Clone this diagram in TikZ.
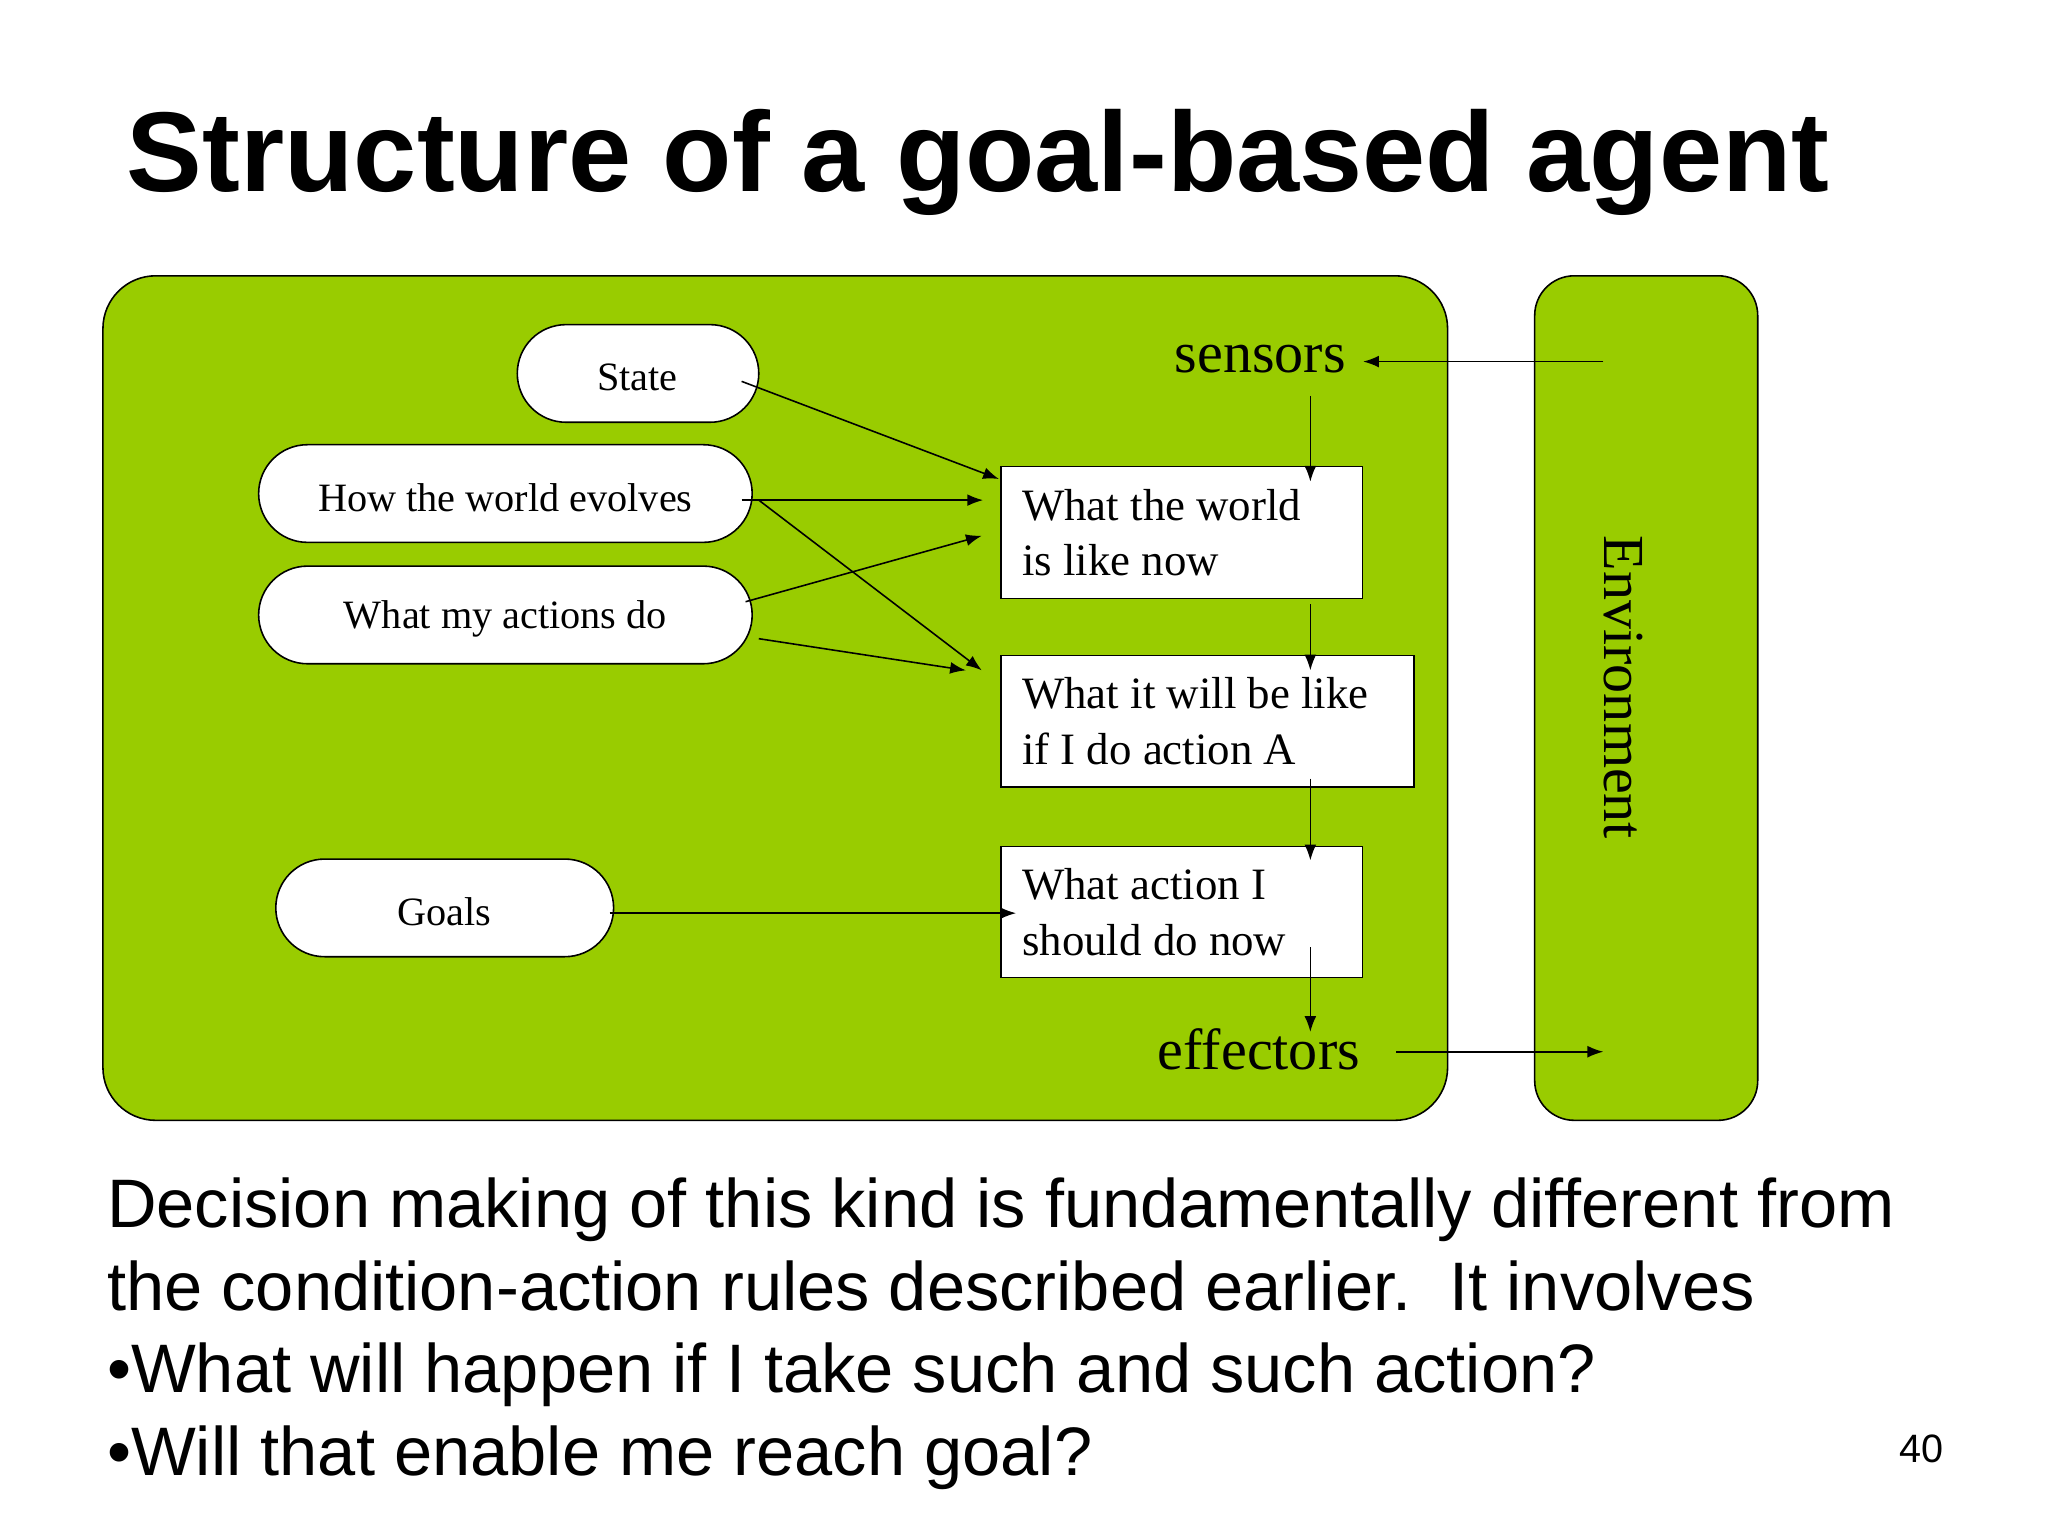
\documentclass[tikz,border=0pt]{standalone}
\usepackage{fontspec}
\setmainfont{Liberation Serif}
\newfontfamily\sans{Liberation Sans}
\usetikzlibrary{arrows.meta}
\definecolor{agreen}{HTML}{99CC00}
\begin{document}
\begin{tikzpicture}[x=1pt,y=-1pt,
  pill/.style={draw,fill=white,rounded corners=37pt,line width=1.2pt},
  pilltext/.style={font=\fontsize{30.5}{32}\selectfont},
  box/.style={draw,fill=white,line width=1.2pt,align=flush left,anchor=north west,inner xsep=16pt,font=\fontsize{34}{42}\selectfont},
  arr/.style={-{Latex[length=12pt,width=9pt]},line width=1.2pt}]
\useasboundingbox (0,0) rectangle (1552,1164);
\fill[white] (0,0) rectangle (1552,1164);
\node[anchor=base west,inner sep=0pt,font=\sans\bfseries\fontsize{86}{100}\selectfont] (title) at (96,145) {Structure of a goal-based agent};
\draw[fill=agreen,line width=1.2pt,rounded corners=40pt] (78,209) rectangle (1097,849);
\draw[fill=agreen,line width=1.2pt,rounded corners=30pt] (1163,209) rectangle (1332,849);
\node[rotate=-90,font=\fontsize{44}{44}\selectfont] (env) at (1230,521) {Environment};
\draw[pill] (392,246) rectangle (575,320); \node[pilltext] (state) at (483,286) {State};
\draw[pill] (196,337) rectangle (570,411); \node[pilltext] (how) at (383,377) {How the world evolves};
\draw[pill] (196,429) rectangle (570,503); \node[pilltext] (act) at (383,469) {What my actions do};
\draw[pill] (209,651) rectangle (465,725); \node[pilltext] (goals) at (337,691) {Goals};
\node[box,text width=242pt,minimum height=100pt] (b1) at (758,353) {What the world\\is like now};
\node[box,text width=281pt,minimum height=100pt] (b2) at (758,496) {What it will be like\\if I do action A};
\node[box,text width=242pt,minimum height=99pt] (b3) at (758,641) {What action I\\should do now};
\node[font=\fontsize{44}{44}\selectfont] (sens) at (955,272) {sensors};
\node[font=\fontsize{44}{44}\selectfont] (eff) at (954,795) {effectors};
\coordinate (envin) at (1215,274);
\coordinate (envout) at (1215,797);
\draw[arr] (envin) -- (1033,274);
\draw[arr] (993,300) -- (993,365);
\draw[arr] (993,458) -- (993,508);
\draw[arr] (993,590) -- (993,652);
\draw[arr] (993,718) -- (993,782);
\draw[arr] (1058,797) -- (envout);
\draw[arr] (562,289) -- (757,363);
\draw[arr] (562,379) -- (745,379);
\draw[arr] (575,379) -- (744,508);
\draw[arr] (565,456) -- (744,406);
\draw[arr] (575,484) -- (732,508);
\draw[arr] (462,692) -- (770,692);
\tikzset{btxt/.style={anchor=base west,inner sep=0pt,font=\sans\fontsize{52}{62.5}\selectfont}}
\node[btxt] (txt) at (81,930) {Decision making of this kind is fundamentally different from};
\node[btxt] (t2) at (81,993) {the condition-action rules described earlier.\ \ It involves};
\node[btxt] (t3) at (81,1055) {•What will happen if I take such and such action?};
\node[btxt] (t4) at (81,1118) {•Will that enable me reach goal?};
\node[font=\sans\fontsize{30}{30}\selectfont] (pg) at (1456,1098) {40};
\end{tikzpicture}
\end{document}
